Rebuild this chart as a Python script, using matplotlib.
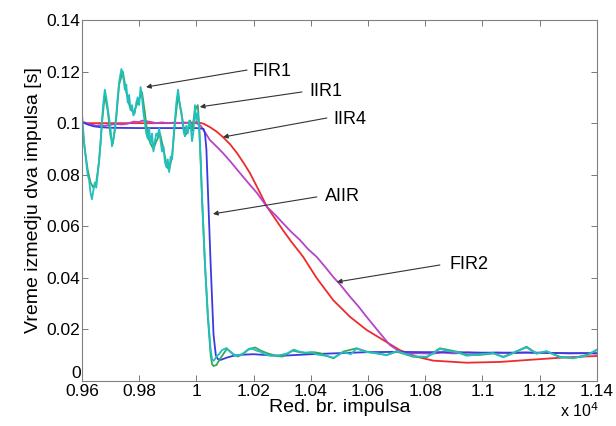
import matplotlib
matplotlib.use("Agg")
import matplotlib.pyplot as plt
from matplotlib.ticker import FuncFormatter

plt.rcParams['font.family'] = ['Liberation Sans', 'DejaVu Sans']

# ---------------- data (x in units of 1e4) ----------------
fir1_x = [0.960, 0.9608, 0.9615, 0.962, 0.9625, 0.963, 0.9635, 0.964, 0.9645, 0.965,
          0.9655, 0.966, 0.9665, 0.967, 0.9675, 0.968, 0.9685, 0.969, 0.9695, 0.970,
          0.9705, 0.971, 0.9715, 0.972, 0.9725, 0.973, 0.9738, 0.9743, 0.975, 0.9755,
          0.976, 0.9765, 0.977, 0.9775, 0.978, 0.9785, 0.979, 0.9795, 0.980, 0.9805,
          0.981, 0.9815, 0.982, 0.9825, 0.983, 0.9835, 0.984, 0.9845, 0.985, 0.9855,
          0.986, 0.9865, 0.987, 0.9875, 0.988, 0.9885, 0.989, 0.9895, 0.990, 0.9905,
          0.991, 0.9915, 0.992, 0.9925, 0.993, 0.9936, 0.9942, 0.995, 0.9955, 0.996,
          0.9965, 0.997, 0.9975, 0.998, 0.9985, 0.999, 0.9995, 1.000, 1.0005, 1.001,
          1.0015, 1.002, 1.003, 1.004, 1.005, 1.0055, 1.006, 1.0065, 1.007, 1.008,
          1.009, 1.0105, 1.012, 1.0135, 1.015, 1.0165, 1.018, 1.0195, 1.021, 1.0225,
          1.024, 1.026, 1.028, 1.030, 1.032, 1.034, 1.036, 1.038, 1.040, 1.042,
          1.045, 1.048, 1.0513, 1.054, 1.056, 1.0595, 1.063, 1.0665, 1.070, 1.073,
          1.0758, 1.0805, 1.083, 1.0851, 1.088, 1.091, 1.0945, 1.0991, 1.1038, 1.1073,
          1.110, 1.1119, 1.1154, 1.1189, 1.1224, 1.1271, 1.1317, 1.1364, 1.1400]
fir1_y = [0.104, 0.092, 0.085, 0.080, 0.078, 0.073, 0.0705, 0.074, 0.077, 0.075,
          0.080, 0.086, 0.092, 0.101, 0.108, 0.113, 0.110, 0.106, 0.102, 0.098,
          0.091, 0.094, 0.097, 0.103, 0.110, 0.116, 0.121, 0.119, 0.113, 0.115,
          0.108, 0.111, 0.105, 0.107, 0.103, 0.104, 0.108, 0.110, 0.107, 0.114,
          0.110, 0.104, 0.100, 0.096, 0.094, 0.098, 0.092, 0.096, 0.089, 0.093,
          0.096, 0.095, 0.098, 0.093, 0.089, 0.091, 0.085, 0.083, 0.086, 0.081,
          0.087, 0.086, 0.094, 0.101, 0.108, 0.113, 0.107, 0.102, 0.097, 0.095,
          0.099, 0.096, 0.101, 0.099, 0.093, 0.097, 0.107, 0.101, 0.104, 0.097,
          0.086, 0.071, 0.046, 0.026, 0.012, 0.0085, 0.0078, 0.0085, 0.0095, 0.0105,
          0.0120, 0.0128, 0.0112, 0.0098, 0.0100, 0.0108, 0.0122, 0.0125, 0.0118, 0.0113,
          0.0103, 0.0098, 0.0098, 0.0102, 0.0108, 0.0122, 0.0114, 0.0110, 0.0112, 0.0103,
          0.0098, 0.0090, 0.0112, 0.0104, 0.0126, 0.0112, 0.0108, 0.0100, 0.0116, 0.0106,
          0.0096, 0.0094, 0.0108, 0.0125, 0.0116, 0.0112, 0.0098, 0.0104, 0.0108, 0.0092,
          0.0104, 0.0116, 0.0130, 0.0106, 0.0116, 0.0092, 0.0090, 0.0098, 0.0122]

iir1_x = [0.960, 0.961, 0.962, 0.963, 0.964, 0.965, 0.966, 0.967, 0.968, 0.969,
          0.970, 0.9708, 0.972, 0.973, 0.9743, 0.9755, 0.9768, 0.978, 0.9795, 0.981,
          0.982, 0.983, 0.984, 0.985, 0.986, 0.9873, 0.9885, 0.9897, 0.9905, 0.9915,
          0.9925, 0.9936, 0.9948, 0.996, 0.997, 0.9978, 0.9985, 0.9995, 1.0005, 1.001,
          1.0015, 1.002, 1.003, 1.004, 1.005, 1.0055, 1.006, 1.007, 1.0085, 1.0107,
          1.0128, 1.0145, 1.0163, 1.0185, 1.0205, 1.0225, 1.0247, 1.028, 1.0302, 1.0337,
          1.036, 1.0386, 1.041, 1.0432, 1.0479, 1.0513, 1.056, 1.0595, 1.063, 1.0665,
          1.070, 1.0758, 1.0805, 1.0851, 1.091, 1.0945, 1.0991, 1.1038, 1.1073, 1.1119,
          1.1154, 1.1189, 1.1224, 1.1271, 1.1317, 1.1364, 1.1400]
iir1_y = [0.100, 0.090, 0.082, 0.077, 0.075, 0.077, 0.085, 0.100, 0.111, 0.105,
          0.095, 0.092, 0.102, 0.115, 0.120, 0.112, 0.106, 0.104, 0.108, 0.112,
          0.104, 0.095, 0.092, 0.090, 0.093, 0.096, 0.090, 0.083, 0.082, 0.087,
          0.100, 0.111, 0.104, 0.095, 0.097, 0.101, 0.097, 0.105, 0.107, 0.099,
          0.085, 0.070, 0.045, 0.025, 0.010, 0.0065, 0.0058, 0.0062, 0.0090, 0.0125,
          0.0105, 0.0095, 0.0105, 0.0125, 0.0130, 0.0118, 0.0108, 0.0097, 0.0095, 0.0118,
          0.0112, 0.0108, 0.0112, 0.0108, 0.0088, 0.0114, 0.0127, 0.0114, 0.0107, 0.0101,
          0.0114, 0.0094, 0.0092, 0.0127, 0.0114, 0.0101, 0.0101, 0.0107, 0.0094, 0.0114,
          0.0133, 0.0107, 0.0114, 0.0094, 0.0088, 0.0101, 0.0120]

iir4_x = [0.960, 0.970, 0.980, 0.990, 0.998, 1.0002, 1.0025, 1.0047, 1.007, 1.0093,
          1.0118, 1.0142, 1.0165, 1.0187, 1.0217, 1.0247, 1.0275, 1.0302, 1.0332, 1.0373,
          1.042, 1.0478, 1.0537, 1.0595, 1.0653, 1.0711, 1.077, 1.0828, 1.0945, 1.1061,
          1.1177, 1.1294, 1.1400]
iir4_y = [0.1000, 0.1000, 0.1000, 0.1000, 0.1002, 0.1004, 0.0998, 0.0985, 0.0968, 0.0946,
          0.0918, 0.0884, 0.0846, 0.0807, 0.0742, 0.0675, 0.0630, 0.0586, 0.0540, 0.0482,
          0.0400, 0.0314, 0.0249, 0.0198, 0.0159, 0.0120, 0.0094, 0.0079, 0.0071, 0.0074,
          0.0083, 0.0092, 0.0097]

fir2_x = [0.960, 0.961, 0.962, 0.963, 0.964, 0.965, 0.966, 0.968, 0.970, 0.972,
          0.974, 0.976, 0.978, 0.980, 0.981, 0.982, 0.984, 0.986, 0.988, 0.990,
          0.992, 0.994, 0.996, 0.998, 1.000, 1.0015, 1.003, 1.0047, 1.007, 1.0093,
          1.012, 1.0152, 1.018, 1.0212, 1.0247, 1.0275, 1.0302, 1.033, 1.0362, 1.039,
          1.042, 1.0452, 1.0478, 1.0502, 1.0537, 1.0566, 1.0595, 1.062, 1.0642, 1.0676,
          1.0711, 1.074, 1.078, 1.082, 1.086, 1.090, 1.095, 1.100, 1.105, 1.110,
          1.115, 1.120, 1.125, 1.130, 1.135, 1.140]
fir2_y = [0.1005, 0.1003, 0.0998, 0.0995, 0.0993, 0.0990, 0.0992, 0.0990, 0.0994, 0.0997,
          0.0995, 0.0998, 0.1006, 0.1004, 0.1010, 0.1008, 0.1005, 0.1000, 0.1003, 0.1000,
          0.1002, 0.1001, 0.1002, 0.1000, 0.1000, 0.0990, 0.0965, 0.0935, 0.0910, 0.0884,
          0.0850, 0.0807, 0.0770, 0.0729, 0.0675, 0.0645, 0.0613, 0.0580, 0.0547, 0.0512,
          0.0482, 0.0440, 0.0404, 0.0375, 0.0327, 0.0290, 0.0249, 0.0215, 0.0185, 0.0140,
          0.0114, 0.0106, 0.0108, 0.0106, 0.0110, 0.0107, 0.0110, 0.0108, 0.0110, 0.0108,
          0.0111, 0.0108, 0.0109, 0.0107, 0.0108, 0.0106]

aiir_x = [0.960, 0.962, 0.964, 0.966, 0.970, 0.980, 0.990, 1.000, 1.0025, 1.003,
          1.0035, 1.004, 1.005, 1.006, 1.0068, 1.0075, 1.0085, 1.0095, 1.011, 1.013,
          1.016, 1.020, 1.025, 1.030, 1.040, 1.050, 1.060, 1.070, 1.080, 1.090,
          1.100, 1.110, 1.120, 1.130, 1.140]
aiir_y = [0.1005, 0.0995, 0.0988, 0.0985, 0.0982, 0.0981, 0.0981, 0.0981, 0.0978, 0.0960,
          0.0900, 0.0750, 0.0450, 0.0180, 0.0100, 0.0085, 0.0082, 0.0086, 0.0092, 0.0098,
          0.0102, 0.0104, 0.0100, 0.0098, 0.0104, 0.0108, 0.0112, 0.0113, 0.0112, 0.0112,
          0.0110, 0.0110, 0.0110, 0.0108, 0.0108]

x_ticks = [0.96, 0.98, 1.00, 1.02, 1.04, 1.06, 1.08, 1.10, 1.12, 1.14]
y_ticks = [0, 0.02, 0.04, 0.06, 0.08, 0.10, 0.12, 0.14]

labels = ["FIR1", "IIR1", "IIR4", "AIIR", "FIR2"]
label_text_xy = [(1.0264, 0.1202), (1.0453, 0.1121), (1.0537, 0.1016), (1.0509, 0.0714), (1.0953, 0.0450)]
label_tail_xy = [(1.0177, 0.1206), (1.0369, 0.1121), (1.0456, 0.1020), (1.0421, 0.0714), (1.0851, 0.0450)]
label_tip_xy = [(0.9824, 0.1140), (1.0012, 0.1063), (1.0093, 0.0946), (1.0058, 0.0648), (1.0491, 0.0384)]

# ---------------- plot ----------------
fig = plt.figure(figsize=(6.16, 4.26), dpi=100)
ax = fig.add_axes([0.133, 0.1056, 0.836, 0.8474])

lw = 1.3
ax.plot(iir4_x, iir4_y, color='#ee2b2b', lw=lw)
ax.plot(fir2_x, fir2_y, color='#b544c8', lw=lw)
ax.plot(aiir_x, aiir_y, color='#3a3ae0', lw=lw)
ax.plot(iir1_x, iir1_y, color='#3aa65a', lw=lw)
ax.plot(fir1_x, fir1_y, color='#22bfc0', lw=lw)

ax.set_xlim(0.96, 1.14)
ax.set_ylim(0, 0.14)
ax.set_xticks(x_ticks)
ax.set_yticks(y_ticks)
fmt = FuncFormatter(lambda v, p: ('%.2f' % v).rstrip('0').rstrip('.') if v != 0 else '0')
ax.xaxis.set_major_formatter(fmt)
ax.yaxis.set_major_formatter(fmt)
ax.tick_params(direction='in', top=True, right=True, length=4, width=0.7,
               color='#777777', labelsize=12.5, pad=2)
ax.tick_params(axis='y', pad=1)
for s in ax.spines.values():
    s.set_color('#808080')
    s.set_linewidth(0.8)

ax.set_xlabel('Red. br. impulsa', fontsize=14, labelpad=0)
ax.set_ylabel('Vreme izmedju dva impulsa [s]', fontsize=14, labelpad=3)
fig.text(0.972, 0.020, r'x 10$^4$', ha='right', va='baseline', fontsize=11.5)

for lab, txy, tail, tip in zip(labels, label_text_xy, label_tail_xy, label_tip_xy):
    ax.annotate('', xy=tip, xytext=tail,
                arrowprops=dict(arrowstyle='-|>', color='#333333', lw=0.8,
                                mutation_scale=7, shrinkA=0, shrinkB=0))
    ax.text(txy[0], txy[1], lab, ha='center', va='center', fontsize=13)

fig.canvas.draw()
ax.get_yticklabels()[0].set_verticalalignment('bottom')

fig.savefig('out.png', dpi=100)
